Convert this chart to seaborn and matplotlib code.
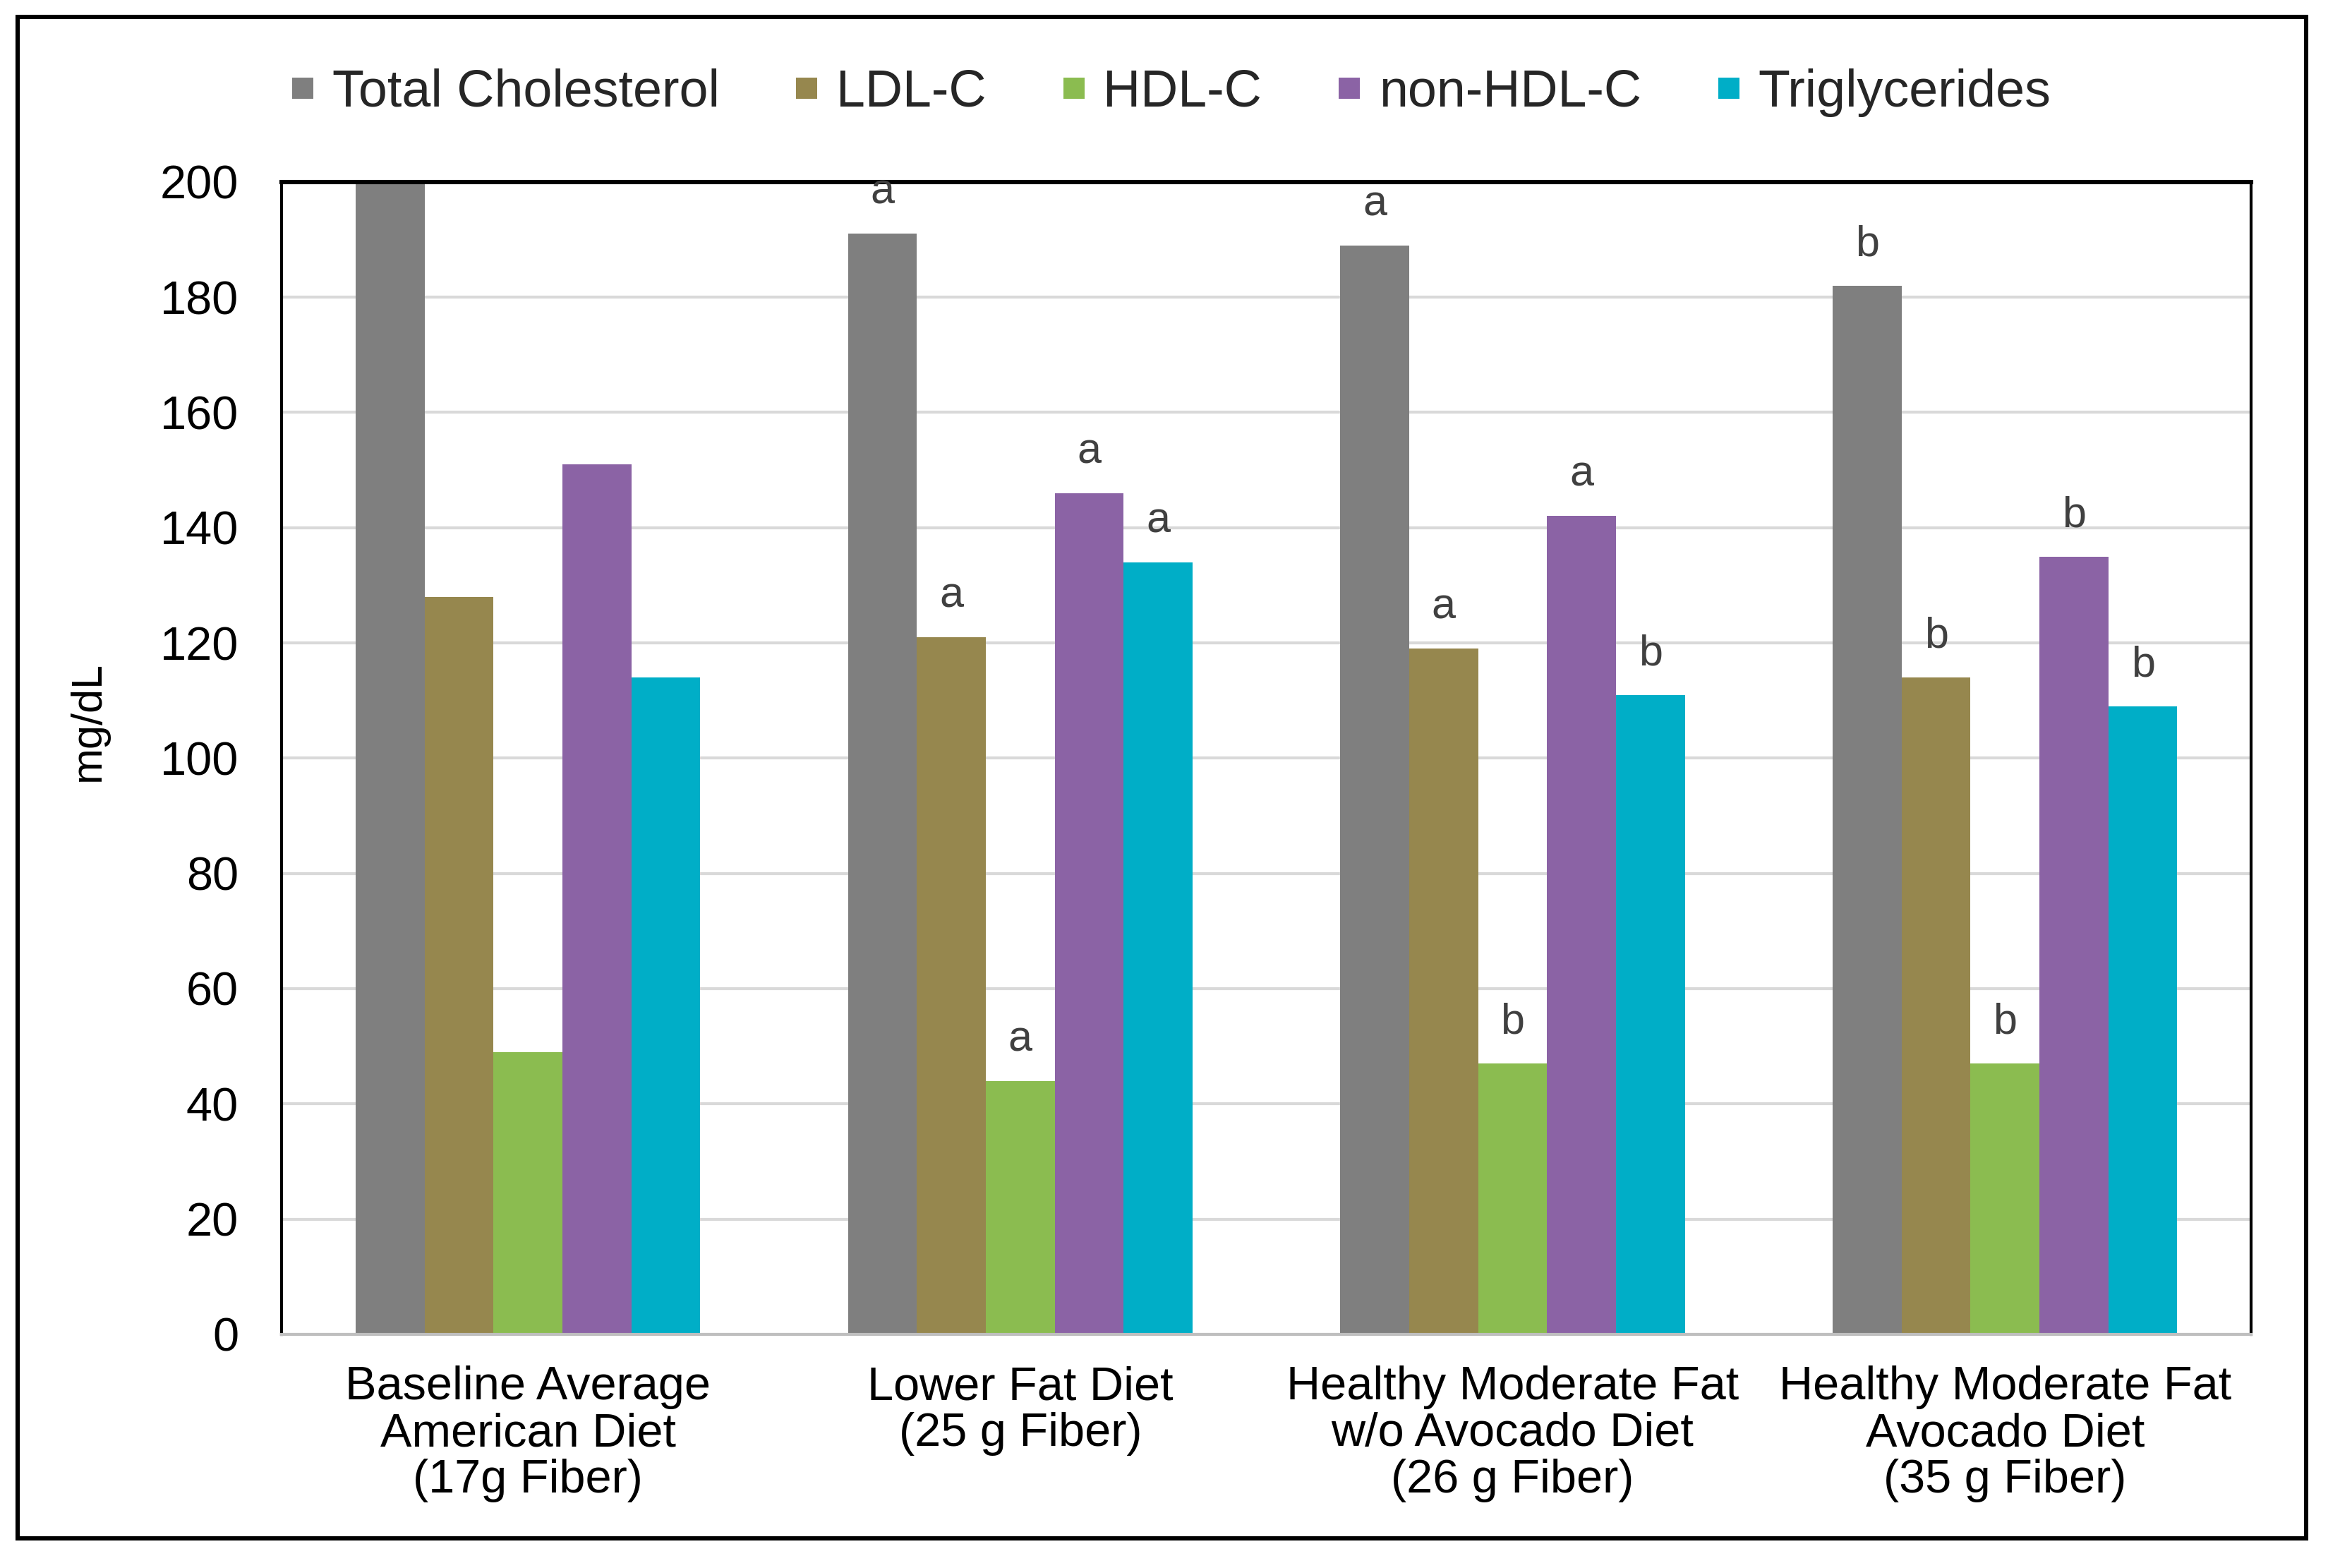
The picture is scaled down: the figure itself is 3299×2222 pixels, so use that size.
import pandas as pd
import numpy as np
import matplotlib
matplotlib.use("Agg")
import matplotlib.pyplot as plt
import seaborn as sns
from matplotlib.lines import Line2D
from matplotlib.patches import Rectangle

# Data
diets = [
    "Baseline Average\nAmerican Diet\n(17g Fiber)",
    "Lower Fat Diet\n(25 g Fiber)",
    "Healthy Moderate Fat\nw/o Avocado Diet\n(26 g Fiber)",
    "Healthy Moderate Fat\nAvocado Diet\n(35 g Fiber)",
]
measures = ["Total Cholesterol", "LDL-C", "HDL-C", "non-HDL-C", "Triglycerides"]

total_chol = [200, 191, 189, 182]
ldl_c = [128, 121, 119, 114]
hdl_c = [49, 44, 47, 47]
non_hdl_c = [151, 146, 142, 135]
triglycerides = [114, 134, 111, 109]

# significance letters above the bars
tc_letters = ["", "a", "a", "b"]
ldl_letters = ["", "a", "a", "b"]
hdl_letters = ["", "a", "b", "b"]
non_hdl_letters = ["", "a", "a", "b"]
trig_letters = ["", "a", "b", "b"]

colors = ["#7F7F7F", "#96874E", "#8BBC50", "#8B63A5", "#00AEC7"]

# long table for seaborn
values = [total_chol, ldl_c, hdl_c, non_hdl_c, triglycerides]
letters = [tc_letters, ldl_letters, hdl_letters, non_hdl_letters, trig_letters]
rows = []
for m, vals in zip(measures, values):
    for d, v in zip(diets, vals):
        rows.append({"Diet": d, "Measure": m, "mg/dL": v})
df = pd.DataFrame(rows)

sns.set_theme(style="white")
plt.rcParams["font.family"] = ["Liberation Sans", "DejaVu Sans"]

fig = plt.figure(figsize=(16.495, 11.11), dpi=200)
ax = fig.add_axes([0.121, 0.149, 0.846, 0.735])

sns.barplot(data=df, x="Diet", y="mg/dL", hue="Measure", order=diets,
            hue_order=measures, palette=colors, saturation=1, width=0.7,
            linewidth=0, ax=ax, legend=False)

# letters
for cont, lets in zip(ax.containers, letters):
    for bar, lab in zip(cont, lets):
        if lab:
            ax.text(bar.get_x() + bar.get_width() / 2, bar.get_height() + 5.2, lab,
                    ha="center", va="baseline", fontsize=22, color="#404040",
                    clip_on=False)

ax.set_ylim(0, 200)
ax.set_xlim(-0.5, 3.5)
ax.set_yticks(np.arange(0, 201, 20))
ax.set_xlabel("")
ax.set_ylabel("mg/dL", fontsize=22, color="black")
ax.yaxis.set_label_coords(-0.088, 0.532)

ax.yaxis.grid(True, color="#D9D9D9", linewidth=1.5)
ax.set_axisbelow(True)

ax.tick_params(axis="y", length=0, pad=22, labelsize=24, labelcolor="black")
ax.tick_params(axis="x", which="major", length=0, pad=16, labelsize=24, labelcolor="black")
ax.set_xticks([-0.5, 0.5, 1.5, 2.5, 3.5], minor=True)
ax.tick_params(axis="x", which="minor", length=6, width=1.5, color="#BFBFBF")
for t in ax.get_xticklabels():
    t.set_linespacing(1.08)
    t.set_multialignment("center")

for s in ["left", "right"]:
    ax.spines[s].set_color("black")
    ax.spines[s].set_linewidth(1.5)
ax.spines["top"].set_color("black")
ax.spines["top"].set_linewidth(2.2)
ax.spines["bottom"].set_color("#BFBFBF")
ax.spines["bottom"].set_linewidth(1.5)

# legend on top
handles = [Line2D([0], [0], marker="s", linestyle="none", markersize=11,
                  markerfacecolor=c, markeredgewidth=0) for c in colors]
fig.legend(handles, measures, loc="center", bbox_to_anchor=(0.503, 0.941),
           ncol=5, frameon=False, fontsize=26.5, handlelength=0.45,
           handletextpad=0.34, columnspacing=1.46, borderaxespad=0)

# outer frame
fig.patches.append(Rectangle((0.0076, 0.019), 0.983, 0.970, transform=fig.transFigure,
                             fill=False, edgecolor="black", linewidth=2.2))

fig.savefig("out.png", dpi=200)
